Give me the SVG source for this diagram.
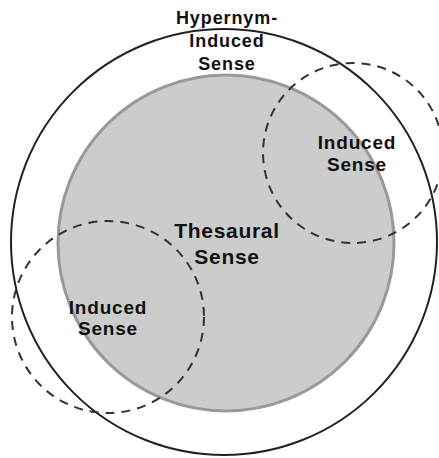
<svg xmlns="http://www.w3.org/2000/svg" width="439" height="458" viewBox="0 0 439 458">
<style>
.lbl{font-family:"Liberation Sans",Arial,sans-serif;font-weight:bold;fill:#111;text-anchor:middle}
.s{font-size:19px;letter-spacing:0.8px}
.dash{fill:none;stroke:#333;stroke-width:2;stroke-dasharray:9,7}
</style>
<rect width="439" height="458" fill="#fff"/>
<g id="hypernym">
<circle cx="224" cy="242" r="213" fill="none" stroke="#222" stroke-width="2"/>
<text class="lbl" font-size="18" letter-spacing="0.9"><tspan x="227" y="24">Hypernym-</tspan><tspan x="227" y="47">Induced</tspan><tspan x="227" y="70">Sense</tspan></text>
</g>
<g id="thesaural">
<circle cx="226" cy="243" r="168" fill="#cccccc" stroke="#999" stroke-width="3"/>
<text class="lbl" font-size="21" letter-spacing="0.7"><tspan x="227" y="238">Thesaural</tspan><tspan x="227" y="264">Sense</tspan></text>
</g>
<g id="induced1">
<circle cx="353" cy="153" r="90" class="dash"/>
<text class="lbl s"><tspan x="357" y="149">Induced</tspan><tspan x="357" y="171">Sense</tspan></text>
</g>
<g id="induced2">
<circle cx="108" cy="317" r="96" class="dash"/>
<text class="lbl s"><tspan x="108" y="314">Induced</tspan><tspan x="108" y="335">Sense</tspan></text>
</g>
<g id="connectors"/>
</svg>
